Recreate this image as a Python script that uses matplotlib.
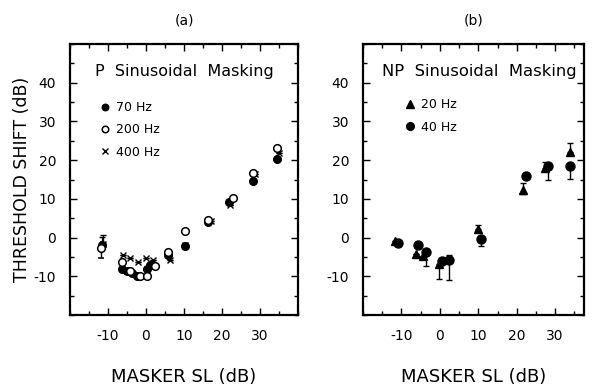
import matplotlib
matplotlib.use('Agg')
import matplotlib.pyplot as plt
from matplotlib.ticker import MultipleLocator

plt.rcParams['font.family'] = ['DejaVu Sans']
plt.rcParams['axes.unicode_minus'] = False

# (a) P sinusoidal masking
sl_70 = [-11.7, -6.4, -5.1, -3.8, -2.4, 0.2, 1.1, 5.9, 10.3, 16.2, 21.9, 28.1, 34.4]
ts_70 = [-2.0, -8.2, -8.7, -9.1, -9.8, -8.0, -7.0, -4.6, -2.2, 4.1, 9.2, 14.7, 20.3]
sl_200 = [-11.9, -6.2, -4.2, -1.7, 0.3, 2.4, 5.9, 10.3, 16.2, 22.8, 28.2, 34.4]
ts_200 = [-2.8, -6.3, -8.7, -9.9, -9.8, -7.3, -3.7, 1.6, 4.5, 10.1, 16.8, 23.2]
sl_400 = [-11.2, -6.0, -4.2, -2.2, 0.0, 1.9, 6.4, 10.3, 17.2, 22.1, 28.8, 35.0]
ts_400 = [-1.6, -4.4, -5.3, -6.3, -5.4, -5.9, -5.7, -1.8, 4.2, 8.4, 16.5, 21.8]
err_70 = [[0] * 13, [2.2] + [0] * 12]
err_200 = [[2.6] + [0] * 11, [0] * 12]
err_400 = [[0] * 12, [2.2] + [0] * 11]

# (b) NP sinusoidal masking
sl_20 = [-11.8, -6.2, -4.4, -0.1, 9.9, 21.7, 27.3, 33.9]
ts_20 = [-0.9, -4.3, -4.7, -6.9, 2.1, 12.2, 18.0, 22.1]
err_20 = [[0, 0, 0, 3.8, 0, 1.0, 0, 0],
          [0, 0, 0, 0, 1.2, 2.0, 1.5, 2.2]]
sl_40 = [-10.9, -5.7, -3.6, 0.5, 2.5, 10.6, 22.4, 28.1, 33.9]
ts_40 = [-1.3, -2.0, -3.7, -6.1, -5.8, -0.3, 15.9, 18.5, 18.5]
err_40 = [[0, 0, 3.6, 0, 5.2, 1.9, 0, 3.5, 3.3],
          [0, 0, 0, 0, 1.4, 0, 0, 0, 0]]

fig = plt.figure(figsize=(5.93, 3.85), dpi=100)
ax1 = fig.add_axes([70 / 593, 70 / 385, 228 / 593, 271 / 385])
ax2 = fig.add_axes([363 / 593, 70 / 385, 221 / 593, 271 / 385])

eb = dict(ecolor='black', elinewidth=1.0, capsize=2.5, capthick=1.0, linestyle='none')

ax1.errorbar(sl_70, ts_70, yerr=err_70, fmt='o', mfc='black', mec='black', ms=5.5,
             label='70 Hz', zorder=3, **eb)
ax1.errorbar(sl_200, ts_200, yerr=err_200, fmt='o', mfc='white', mec='black', mew=1.1, ms=5.5,
             label='200 Hz', zorder=4, **eb)
ax1.errorbar(sl_400, ts_400, yerr=err_400, fmt='x', color='black', mew=1.0, ms=5,
             label='400 Hz', zorder=2, **eb)

ax2.errorbar(sl_20, ts_20, yerr=err_20, fmt='^', mfc='black', mec='black', ms=6,
             label='20 Hz', zorder=3, **eb)
ax2.errorbar(sl_40, ts_40, yerr=err_40, fmt='o', mfc='black', mec='black', ms=6.5,
             label='40 Hz', zorder=3, **eb)

for ax, xmax in [(ax1, 40), (ax2, 37.5)]:
    ax.set_xlim(-20, xmax)
    ax.set_ylim(-20, 50)
    ax.xaxis.set_minor_locator(MultipleLocator(5))
    ax.yaxis.set_minor_locator(MultipleLocator(5))
    ax.set_xticks([-10, 0, 10, 20, 30])
    ax.set_yticks([-10, 0, 10, 20, 30, 40])
    ax.tick_params(which='both', direction='in', top=True, right=True, width=1.0)
    ax.tick_params(which='major', length=5, labelsize=10, pad=10)
    ax.tick_params(which='minor', length=3)
    for s in ax.spines.values():
        s.set_linewidth(1.6)
    ax.set_xlabel('MASKER SL (dB)', fontsize=13, labelpad=18)

ax1.set_ylabel('THRESHOLD SHIFT (dB)', fontsize=12.5, labelpad=2)
ax1.set_title('(a)', fontsize=10, pad=14)
ax2.set_title('(b)', fontsize=10, pad=14)

ax1.text(0.11, 0.897, 'P  Sinusoidal  Masking', transform=ax1.transAxes,
         fontsize=11.5, va='center', ha='left')
ax2.text(0.086, 0.897, 'NP  Sinusoidal  Masking', transform=ax2.transAxes,
         fontsize=11.8, va='center', ha='left')

for ax, anchor in [(ax1, (0.13, 0.79)), (ax2, (0.19, 0.80))]:
    h, l = ax.get_legend_handles_labels()
    h = [x[0] for x in h]
    ax.legend(h, l, loc='upper left', bbox_to_anchor=anchor, frameon=False,
              fontsize=9, handlelength=0.8, handletextpad=0.5, labelspacing=0.75,
              markerscale=0.85, borderpad=0, borderaxespad=0)

fig.savefig('out.png', dpi=100)
